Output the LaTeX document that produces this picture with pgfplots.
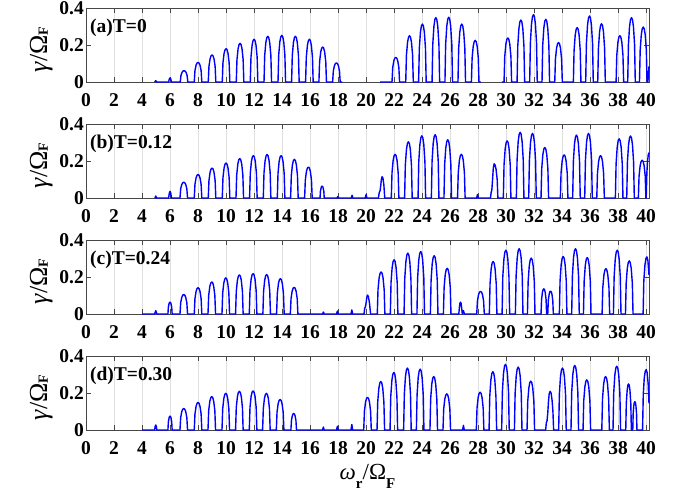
\documentclass[border=0pt]{standalone}
\usepackage{fontspec}
\setmainfont{Liberation Serif}
\usepackage{pgfplots}
\pgfplotsset{compat=1.18}
\newcommand{\tfont}{\fontsize{19.5}{19.5}\selectfont\bfseries}
\newcommand{\ylab}{{\fontsize{26}{26}\selectfont{\itshape γ}/Ω}\raisebox{-0.08em}{\fontsize{14}{14}\selectfont\bfseries F}}
\newcommand{\xlab}{{\fontsize{23}{23}\selectfont{\itshape ω}}\raisebox{-9pt}{\fontsize{15}{15}\selectfont\bfseries r}{\fontsize{23}{23}\selectfont/Ω}\raisebox{-9pt}{\fontsize{15}{15}\selectfont\bfseries F}}
\pgfplotsset{
  panel/.style={
    scale only axis, width=563pt, height=74pt,
    xmin=0, xmax=40.2, ymin=0, ymax=0.4,
    xtick={0,2,...,40}, ytick={0,0.2,0.4},
    xmajorgrids, grid style={black!12, line width=0.6pt},
    tick align=inside, major tick length=5pt,
    axis line style={draw=black!72, line width=0.7pt},
    every tick/.style={black!72, line width=0.6pt},
    tick label style={font=\tfont},
    /pgf/number format/assume math mode=true,
    yticklabel style={/pgf/number format/fixed, inner sep=2pt},
    xticklabel style={inner sep=2pt, yshift=-9pt},
    clip=false, unbounded coords=jump,
    ylabel={\ylab},
    every axis y label/.style={at={(axis description cs:-0.069,0.44)}, rotate=90, anchor=base},
  },
  pk/.style={blue, line width=1.4pt, line join=round, mark=none},
}
\begin{document}
\begin{tikzpicture}
\useasboundingbox (0,0) rectangle (683pt,496pt);
% ---------------- (a)
\begin{axis}[panel, at={(86pt,414pt)}, anchor=south west]
\addplot[pk] coordinates {
(4.9,0)(4.98,0.007)(5.06,0)
(5.9,0)(5.95,0.0165)(6.0,0.022)(6.05,0.0165)(6.1,0)
(6.73,0)(6.78,0.0354)(6.86,0.0525)(6.93,0.0592)(7.0,0.061)(7.07,0.0592)(7.14,0.0525)(7.22,0.0354)(7.27,0)
(7.73,0)(7.78,0.0615)(7.86,0.0912)(7.93,0.1028)(8.0,0.106)(8.07,0.1028)(8.14,0.0912)(8.22,0.0615)(8.27,0)
(8.73,0)(8.78,0.0847)(8.86,0.1256)(8.93,0.1416)(9.0,0.146)(9.07,0.1416)(9.14,0.1256)(9.22,0.0847)(9.27,0)
(9.73,0)(9.78,0.1044)(9.86,0.1548)(9.93,0.1746)(10.0,0.18)(10.07,0.1746)(10.14,0.1548)(10.22,0.1044)(10.27,0)
(10.73,0)(10.78,0.1212)(10.86,0.1797)(10.93,0.2027)(11.0,0.209)(11.07,0.2027)(11.14,0.1797)(11.22,0.1212)(11.27,0)
(11.73,0)(11.78,0.134)(11.86,0.1987)(11.93,0.2241)(12.0,0.231)(12.07,0.2241)(12.14,0.1987)(12.22,0.134)(12.27,0)
(12.71,0)(12.76,0.1433)(12.84,0.2124)(12.91,0.2396)(12.98,0.247)(13.05,0.2396)(13.12,0.2124)(13.2,0.1433)(13.25,0)
(13.71,0)(13.76,0.1462)(13.84,0.2167)(13.91,0.2444)(13.98,0.252)(14.05,0.2444)(14.12,0.2167)(14.2,0.1462)(14.25,0)
(14.68,0)(14.73,0.1433)(14.81,0.2124)(14.88,0.2396)(14.95,0.247)(15.02,0.2396)(15.09,0.2124)(15.17,0.1433)(15.22,0)
(15.68,0)(15.73,0.134)(15.81,0.1987)(15.88,0.2241)(15.95,0.231)(16.02,0.2241)(16.09,0.1987)(16.17,0.134)(16.22,0)
(16.63,0)(16.68,0.1096)(16.76,0.1625)(16.83,0.1833)(16.9,0.189)(16.97,0.1833)(17.04,0.1625)(17.12,0.1096)(17.17,0)
(17.61,0)(17.66,0.0597)(17.74,0.0886)(17.81,0.0999)(17.88,0.103)(17.95,0.0999)(18.02,0.0886)(18.1,0.0597)(18.15,0)
(18.3,0)(18.3,nan)
(21.0,0)
(21.85,0)(21.9,0.0771)(21.98,0.1144)(22.05,0.129)(22.12,0.133)(22.19,0.129)(22.26,0.1144)(22.34,0.0771)(22.39,0)
(22.83,0)(22.88,0.145)(22.96,0.215)(23.03,0.2425)(23.1,0.25)(23.17,0.2425)(23.24,0.215)(23.32,0.145)(23.37,0)
(23.75,0)(23.8,0.1815)(23.88,0.2692)(23.95,0.3036)(24.02,0.313)(24.09,0.3036)(24.16,0.2692)(24.24,0.1815)(24.29,0)
(24.71,0)(24.76,0.2018)(24.84,0.2993)(24.91,0.3376)(24.98,0.348)(25.05,0.3376)(25.12,0.2993)(25.2,0.2018)(25.25,0)
(25.63,0)(25.68,0.203)(25.76,0.301)(25.83,0.3395)(25.9,0.35)(25.97,0.3395)(26.04,0.301)(26.12,0.203)(26.17,0)
(26.56,0)(26.61,0.1815)(26.69,0.2692)(26.76,0.3036)(26.83,0.313)(26.9,0.3036)(26.97,0.2692)(27.05,0.1815)(27.1,0)
(27.52,0)(27.57,0.1305)(27.65,0.1935)(27.72,0.2183)(27.79,0.225)(27.86,0.2183)(27.93,0.1935)(28.01,0.1305)(28.06,0)
(28.2,0)(28.2,nan)
(29.7,0)
(29.85,0)(29.9,0.138)(29.98,0.2047)(30.05,0.2309)(30.12,0.238)(30.19,0.2309)(30.26,0.2047)(30.34,0.138)(30.39,0)
(30.78,0)(30.83,0.1943)(30.91,0.2881)(30.98,0.325)(31.05,0.335)(31.12,0.325)(31.19,0.2881)(31.27,0.1943)(31.32,0)
(31.68,0)(31.73,0.2111)(31.81,0.313)(31.88,0.3531)(31.95,0.364)(32.02,0.3531)(32.09,0.313)(32.17,0.2111)(32.22,0)
(32.56,0)(32.61,0.1966)(32.69,0.2915)(32.76,0.3288)(32.83,0.339)(32.9,0.3288)(32.97,0.2915)(33.05,0.1966)(33.1,0)
(33.47,0)(33.52,0.1235)(33.6,0.1832)(33.67,0.2066)(33.74,0.213)(33.81,0.2066)(33.88,0.1832)(33.96,0.1235)(34.01,0)
(34.8,0)(34.85,0.1705)(34.93,0.2528)(35.0,0.2852)(35.07,0.294)(35.14,0.2852)(35.21,0.2528)(35.29,0.1705)(35.34,0)
(35.68,0)(35.73,0.2071)(35.81,0.307)(35.88,0.3463)(35.95,0.357)(36.02,0.3463)(36.09,0.307)(36.17,0.2071)(36.22,0)
(36.54,0)(36.59,0.1827)(36.67,0.2709)(36.74,0.3056)(36.81,0.315)(36.88,0.3056)(36.95,0.2709)(37.03,0.1827)(37.08,0)
(37.85,0)(37.9,0.145)(37.98,0.215)(38.05,0.2425)(38.12,0.25)(38.19,0.2425)(38.26,0.215)(38.34,0.145)(38.39,0)
(38.68,0)(38.73,0.2018)(38.81,0.2993)(38.88,0.3376)(38.95,0.348)(39.02,0.3376)(39.09,0.2993)(39.17,0.2018)(39.22,0)
(39.52,0)(39.57,0.1723)(39.65,0.2554)(39.72,0.2881)(39.79,0.297)(39.86,0.2881)(39.93,0.2554)(40.01,0.1723)(40.06,0)
(40.12,0)(40.2,0.085)
};
\node[anchor=north west, inner sep=0pt, font=\tfont] at (rel axis cs:0.007,0.85) {(a)T=0};
\end{axis}
% ---------------- (b)
\begin{axis}[panel, at={(86pt,298pt)}, anchor=south west]
\addplot[pk] coordinates {
(4.9,0)(4.92,0)(4.98,0.011)(5.04,0)
(5.9,0)(5.95,0.027)(6.0,0.036)(6.05,0.027)(6.1,0)
(6.71,0)(6.76,0.0493)(6.84,0.0731)(6.91,0.0825)(6.98,0.085)(7.05,0.0825)(7.12,0.0731)(7.2,0.0493)(7.25,0)
(7.73,0)(7.78,0.0737)(7.86,0.1092)(7.93,0.1232)(8.0,0.127)(8.07,0.1232)(8.14,0.1092)(8.22,0.0737)(8.27,0)
(8.73,0)(8.78,0.094)(8.86,0.1393)(8.93,0.1571)(9.0,0.162)(9.07,0.1571)(9.14,0.1393)(9.22,0.094)(9.27,0)
(9.73,0)(9.78,0.1096)(9.86,0.1625)(9.93,0.1833)(10.0,0.189)(10.07,0.1833)(10.14,0.1625)(10.22,0.1096)(10.27,0)
(10.71,0)(10.76,0.1235)(10.84,0.1832)(10.91,0.2066)(10.98,0.213)(11.05,0.2066)(11.12,0.1832)(11.2,0.1235)(11.25,0)
(11.68,0)(11.73,0.1328)(11.81,0.1969)(11.88,0.2221)(11.95,0.229)(12.02,0.2221)(12.09,0.1969)(12.17,0.1328)(12.22,0)
(12.66,0)(12.71,0.1363)(12.79,0.2021)(12.86,0.228)(12.93,0.235)(13.0,0.228)(13.07,0.2021)(13.15,0.1363)(13.2,0)
(13.66,0)(13.71,0.1328)(13.79,0.1969)(13.86,0.2221)(13.93,0.229)(14.0,0.2221)(14.07,0.1969)(14.15,0.1328)(14.2,0)
(14.61,0)(14.66,0.1212)(14.74,0.1797)(14.81,0.2027)(14.88,0.209)(14.95,0.2027)(15.02,0.1797)(15.1,0.1212)(15.15,0)
(15.61,0)(15.66,0.0969)(15.74,0.1436)(15.81,0.162)(15.88,0.167)(15.95,0.162)(16.02,0.1436)(16.1,0.0969)(16.15,0)
(16.71,0)(16.74,0.0371)(16.79,0.055)(16.82,0.0621)(16.86,0.064)(16.9,0.0621)(16.93,0.055)(16.98,0.0371)(17.01,0)
(17.92,0)(17.98,0.008)(18.04,0)(18.94,0)(19.0,0.015)(19.06,0)(19.94,0)(20.0,0.018)(20.06,0)
(20.88,0)(20.94,0.03)(21.0,0.04)(21.05,0.07)(21.09,0.1)(21.14,0.115)(21.2,0.108)(21.27,0.07)(21.33,0)
(21.8,0)(21.85,0.1369)(21.93,0.203)(22.0,0.2289)(22.07,0.236)(22.14,0.2289)(22.21,0.203)(22.29,0.1369)(22.34,0)
(22.75,0)(22.8,0.1763)(22.88,0.2614)(22.95,0.2949)(23.02,0.304)(23.09,0.2949)(23.16,0.2614)(23.24,0.1763)(23.29,0)
(23.71,0)(23.76,0.1949)(23.84,0.289)(23.91,0.3259)(23.98,0.336)(24.05,0.3259)(24.12,0.289)(24.2,0.1949)(24.25,0)
(24.66,0)(24.71,0.1984)(24.79,0.2941)(24.86,0.3317)(24.93,0.342)(25.0,0.3317)(25.07,0.2941)(25.15,0.1984)(25.2,0)
(25.56,0)(25.61,0.1827)(25.69,0.2709)(25.76,0.3056)(25.83,0.315)(25.9,0.3056)(25.97,0.2709)(26.05,0.1827)(26.1,0)
(26.53,0)(26.58,0.1369)(26.66,0.203)(26.73,0.2289)(26.8,0.236)(26.87,0.2289)(26.94,0.203)(27.02,0.1369)(27.07,0)
(27.89,0)(27.95,0.018)(28.01,0)
(28.88,0)(28.93,0.03)(28.98,0.045)(29.03,0.1)(29.08,0.16)(29.14,0.185)(29.21,0.178)(29.28,0.155)(29.36,0.1)(29.41,0)
(29.8,0)(29.85,0.1792)(29.93,0.2657)(30.0,0.2997)(30.07,0.309)(30.14,0.2997)(30.21,0.2657)(30.29,0.1792)(30.34,0)
(30.73,0)(30.78,0.2059)(30.86,0.3053)(30.93,0.3444)(31.0,0.355)(31.07,0.3444)(31.14,0.3053)(31.22,0.2059)(31.27,0)
(31.61,0)(31.66,0.2024)(31.74,0.3001)(31.81,0.3385)(31.88,0.349)(31.95,0.3385)(32.02,0.3001)(32.1,0.2024)(32.15,0)
(32.49,0)(32.54,0.1583)(32.62,0.2348)(32.69,0.2648)(32.76,0.273)(32.83,0.2648)(32.9,0.2348)(32.98,0.1583)(33.03,0)
(33.87,0)(33.92,0.1351)(34.0,0.2004)(34.07,0.226)(34.14,0.233)(34.21,0.226)(34.28,0.2004)(34.36,0.1351)(34.41,0)
(34.75,0)(34.8,0.1972)(34.88,0.2924)(34.95,0.3298)(35.02,0.34)(35.09,0.3298)(35.16,0.2924)(35.24,0.1972)(35.29,0)
(35.61,0)(35.66,0.2024)(35.74,0.3001)(35.81,0.3385)(35.88,0.349)(35.95,0.3385)(36.02,0.3001)(36.1,0.2024)(36.15,0)
(36.47,0)(36.52,0.1328)(36.6,0.1969)(36.67,0.2221)(36.74,0.229)(36.81,0.2221)(36.88,0.1969)(36.96,0.1328)(37.01,0)
(37.8,0)(37.85,0.1856)(37.93,0.2752)(38.0,0.3104)(38.07,0.32)(38.14,0.3104)(38.21,0.2752)(38.29,0.1856)(38.34,0)
(38.61,0)(38.66,0.1943)(38.74,0.2881)(38.81,0.325)(38.88,0.335)(38.95,0.325)(39.02,0.2881)(39.1,0.1943)(39.15,0)
(39.44,0)(39.49,0.1183)(39.57,0.1754)(39.64,0.1979)(39.71,0.204)(39.78,0.1979)(39.85,0.1754)(39.93,0.1183)(39.98,0)
(40.0,0)(40.05,0.14)(40.1,0.2)(40.15,0.235)(40.2,0.245)
};
\node[anchor=north west, inner sep=0pt, font=\tfont] at (rel axis cs:0.007,0.85) {(b)T=0.12};
\end{axis}
% ---------------- (c)
\begin{axis}[panel, at={(86pt,182pt)}, anchor=south west]
\addplot[pk] coordinates {
(4.0,0)(4.9,0)(4.98,0.018)(5.06,0)
(5.85,0)(5.88,0.0371)(5.93,0.055)(5.96,0.0621)(6.0,0.064)(6.04,0.0621)(6.07,0.055)(6.12,0.0371)(6.15,0)
(6.71,0)(6.76,0.0609)(6.84,0.0903)(6.91,0.1019)(6.98,0.105)(7.05,0.1019)(7.12,0.0903)(7.2,0.0609)(7.25,0)
(7.73,0)(7.78,0.0824)(7.86,0.1221)(7.93,0.1377)(8.0,0.142)(8.07,0.1377)(8.14,0.1221)(8.22,0.0824)(8.27,0)
(8.71,0)(8.76,0.1003)(8.84,0.1488)(8.91,0.1678)(8.98,0.173)(9.05,0.1678)(9.12,0.1488)(9.2,0.1003)(9.25,0)
(9.71,0)(9.76,0.1131)(9.84,0.1677)(9.91,0.1892)(9.98,0.195)(10.05,0.1892)(10.12,0.1677)(10.2,0.1131)(10.25,0)
(10.68,0)(10.73,0.1224)(10.81,0.1815)(10.88,0.2047)(10.95,0.211)(11.02,0.2047)(11.09,0.1815)(11.17,0.1224)(11.22,0)
(11.66,0)(11.71,0.1264)(11.79,0.1875)(11.86,0.2115)(11.93,0.218)(12.0,0.2115)(12.07,0.1875)(12.15,0.1264)(12.2,0)
(12.63,0)(12.68,0.1235)(12.76,0.1832)(12.83,0.2066)(12.9,0.213)(12.97,0.2066)(13.04,0.1832)(13.12,0.1235)(13.17,0)
(13.61,0)(13.66,0.1108)(13.74,0.1643)(13.81,0.1853)(13.88,0.191)(13.95,0.1853)(14.02,0.1643)(14.1,0.1108)(14.15,0)
(14.59,0)(14.64,0.0835)(14.72,0.1238)(14.79,0.1397)(14.86,0.144)(14.93,0.1397)(15.0,0.1238)(15.08,0.0835)(15.13,0)
(16.89,0)(16.95,0.011)(17.01,0)(17.89,0)(17.95,0.016)(18.01,0)(18.92,0)(18.98,0.022)(19.04,0)
(19.85,0)(19.9,0.03)(19.95,0.04)(20.0,0.06)(20.05,0.09)(20.1,0.102)(20.16,0.095)(20.24,0.06)(20.32,0)
(20.8,0)(20.85,0.1317)(20.93,0.1952)(21.0,0.2202)(21.07,0.227)(21.14,0.2202)(21.21,0.1952)(21.29,0.1317)(21.34,0)
(21.73,0)(21.78,0.1699)(21.86,0.252)(21.93,0.2842)(22.0,0.293)(22.07,0.2842)(22.14,0.252)(22.22,0.1699)(22.27,0)
(22.71,0)(22.76,0.1908)(22.84,0.2829)(22.91,0.3191)(22.98,0.329)(23.05,0.3191)(23.12,0.2829)(23.2,0.1908)(23.25,0)
(23.63,0)(23.68,0.196)(23.76,0.2907)(23.83,0.3279)(23.9,0.338)(23.97,0.3279)(24.04,0.2907)(24.12,0.196)(24.17,0)
(24.59,0)(24.64,0.1827)(24.72,0.2709)(24.79,0.3056)(24.86,0.315)(24.93,0.3056)(25.0,0.2709)(25.08,0.1827)(25.13,0)
(25.52,0)(25.57,0.1433)(25.65,0.2124)(25.72,0.2396)(25.79,0.247)(25.86,0.2396)(25.93,0.2124)(26.01,0.1433)(26.06,0)
(26.62,0)(26.66,0.035)(26.7,0.058)(26.74,0.064)(26.78,0.058)(26.82,0.035)(26.87,0)(26.95,0.018)(27.02,0)
(27.9,0)(27.95,0.0708)(28.03,0.1049)(28.1,0.1183)(28.17,0.122)(28.24,0.1183)(28.31,0.1049)(28.39,0.0708)(28.44,0)
(28.8,0)(28.85,0.1647)(28.93,0.2442)(29.0,0.2755)(29.07,0.284)(29.14,0.2755)(29.21,0.2442)(29.29,0.1647)(29.34,0)
(29.71,0)(29.76,0.2001)(29.84,0.2967)(29.91,0.3347)(29.98,0.345)(30.05,0.3347)(30.12,0.2967)(30.2,0.2001)(30.25,0)
(30.66,0)(30.71,0.2047)(30.79,0.3036)(30.86,0.3424)(30.93,0.353)(31.0,0.3424)(31.07,0.3036)(31.15,0.2047)(31.2,0)
(31.52,0)(31.57,0.1752)(31.65,0.2597)(31.72,0.2929)(31.79,0.302)(31.86,0.2929)(31.93,0.2597)(32.01,0.1752)(32.06,0)
(32.49,0)(32.53,0.0789)(32.59,0.117)(32.64,0.1319)(32.69,0.136)(32.74,0.1319)(32.79,0.117)(32.85,0.0789)(32.89,0)
(32.97,0)(33.01,0.0719)(33.07,0.1066)(33.12,0.1203)(33.17,0.124)(33.22,0.1203)(33.27,0.1066)(33.33,0.0719)(33.37,0)
(33.8,0)(33.85,0.1804)(33.93,0.2675)(34.0,0.3017)(34.07,0.311)(34.14,0.3017)(34.21,0.2675)(34.29,0.1804)(34.34,0)
(34.68,0)(34.73,0.2047)(34.81,0.3036)(34.88,0.3424)(34.95,0.353)(35.02,0.3424)(35.09,0.3036)(35.17,0.2047)(35.22,0)
(35.52,0)(35.57,0.1769)(35.65,0.2623)(35.72,0.2959)(35.79,0.305)(35.86,0.2959)(35.93,0.2623)(36.01,0.1769)(36.06,0)
(36.85,0)(36.9,0.1421)(36.98,0.2107)(37.05,0.2377)(37.12,0.245)(37.19,0.2377)(37.26,0.2107)(37.34,0.1421)(37.39,0)
(37.66,0)(37.71,0.2001)(37.79,0.2967)(37.86,0.3347)(37.93,0.345)(38.0,0.3347)(38.07,0.2967)(38.15,0.2001)(38.2,0)
(38.52,0)(38.57,0.1665)(38.65,0.2468)(38.72,0.2784)(38.79,0.287)(38.86,0.2784)(38.93,0.2468)(39.01,0.1665)(39.06,0)
(39.78,0)(39.83,0.18)(39.91,0.265)(39.98,0.3)(40.05,0.309)(40.12,0.29)(40.2,0.21)
};
\node[anchor=north west, inner sep=0pt, font=\tfont] at (rel axis cs:0.007,0.85) {(c)T=0.24};
\end{axis}
% ---------------- (d)
\begin{axis}[panel, at={(86pt,66pt)}, anchor=south west,
  xlabel={\xlab},
  every axis x label/.style={at={(axis description cs:0.5,0)}, anchor=base, yshift=-49pt}]
\addplot[pk] coordinates {
(4.0,0)(4.9,0)(4.94,0.02)(4.98,0.027)(5.02,0.02)(5.06,0)
(5.85,0)(5.88,0.0435)(5.93,0.0645)(5.96,0.0728)(6.0,0.075)(6.04,0.0728)(6.07,0.0645)(6.12,0.0435)(6.15,0)
(6.71,0)(6.76,0.0673)(6.84,0.0998)(6.91,0.1125)(6.98,0.116)(7.05,0.1125)(7.12,0.0998)(7.2,0.0673)(7.25,0)
(7.73,0)(7.78,0.0864)(7.86,0.1281)(7.93,0.1445)(8.0,0.149)(8.07,0.1445)(8.14,0.1281)(8.22,0.0864)(8.27,0)
(8.71,0)(8.76,0.1044)(8.84,0.1548)(8.91,0.1746)(8.98,0.18)(9.05,0.1746)(9.12,0.1548)(9.2,0.1044)(9.25,0)
(9.71,0)(9.76,0.1148)(9.84,0.1703)(9.91,0.1921)(9.98,0.198)(10.05,0.1921)(10.12,0.1703)(10.2,0.1148)(10.25,0)
(10.68,0)(10.73,0.1212)(10.81,0.1797)(10.88,0.2027)(10.95,0.209)(11.02,0.2027)(11.09,0.1797)(11.17,0.1212)(11.22,0)
(11.66,0)(11.71,0.1224)(11.79,0.1815)(11.86,0.2047)(11.93,0.211)(12.0,0.2047)(12.07,0.1815)(12.15,0.1224)(12.2,0)
(12.61,0)(12.66,0.1148)(12.74,0.1703)(12.81,0.1921)(12.88,0.198)(12.95,0.1921)(13.02,0.1703)(13.1,0.1148)(13.15,0)
(13.59,0)(13.64,0.0957)(13.72,0.1419)(13.79,0.1601)(13.86,0.165)(13.93,0.1601)(14.0,0.1419)(14.08,0.0957)(14.13,0)
(14.63,0)(14.67,0.0516)(14.73,0.0765)(14.78,0.0863)(14.83,0.089)(14.88,0.0863)(14.93,0.0765)(14.99,0.0516)(15.03,0)
(16.89,0)(16.95,0.016)(17.01,0)(17.89,0)(17.95,0.02)(18.01,0)(18.92,0)(18.98,0.03)(19.04,0)
(19.83,0)(19.88,0.1021)(19.96,0.1514)(20.03,0.1707)(20.1,0.176)(20.17,0.1707)(20.24,0.1514)(20.32,0.1021)(20.37,0)
(20.78,0)(20.83,0.152)(20.91,0.2253)(20.98,0.2541)(21.05,0.262)(21.12,0.2541)(21.19,0.2253)(21.27,0.152)(21.32,0)
(21.71,0)(21.76,0.1804)(21.84,0.2675)(21.91,0.3017)(21.98,0.311)(22.05,0.3017)(22.12,0.2675)(22.2,0.1804)(22.25,0)
(22.68,0)(22.73,0.1943)(22.81,0.2881)(22.88,0.325)(22.95,0.335)(23.02,0.325)(23.09,0.2881)(23.17,0.1943)(23.22,0)
(23.59,0)(23.64,0.1908)(23.72,0.2829)(23.79,0.3191)(23.86,0.329)(23.93,0.3191)(24.0,0.2829)(24.08,0.1908)(24.13,0)
(24.56,0)(24.61,0.1676)(24.69,0.2485)(24.76,0.2803)(24.83,0.289)(24.9,0.2803)(24.97,0.2485)(25.05,0.1676)(25.1,0)
(25.49,0)(25.54,0.1131)(25.62,0.1677)(25.69,0.1892)(25.76,0.195)(25.83,0.1892)(25.9,0.1677)(25.98,0.1131)(26.03,0)
(26.89,0)(26.95,0.025)(27.01,0)
(27.87,0)(27.92,0.1183)(28.0,0.1754)(28.07,0.1979)(28.14,0.204)(28.21,0.1979)(28.28,0.1754)(28.36,0.1183)(28.41,0)
(28.78,0)(28.83,0.1827)(28.91,0.2709)(28.98,0.3056)(29.05,0.315)(29.12,0.3056)(29.19,0.2709)(29.27,0.1827)(29.32,0)
(29.68,0)(29.73,0.2059)(29.81,0.3053)(29.88,0.3444)(29.95,0.355)(30.02,0.3444)(30.09,0.3053)(30.17,0.2059)(30.22,0)
(30.59,0)(30.64,0.1972)(30.72,0.2924)(30.79,0.3298)(30.86,0.34)(30.93,0.3298)(31.0,0.2924)(31.08,0.1972)(31.13,0)
(31.49,0)(31.54,0.1531)(31.62,0.227)(31.69,0.2561)(31.76,0.264)(31.83,0.2561)(31.9,0.227)(31.98,0.1531)(32.03,0)
(32.82,0)(32.87,0.04)(32.92,0.05)(32.97,0.09)(33.02,0.15)(33.07,0.195)(33.14,0.209)(33.21,0.2)(33.28,0.16)(33.34,0.1)(33.39,0)
(33.75,0)(33.8,0.1943)(33.88,0.2881)(33.95,0.325)(34.02,0.335)(34.09,0.325)(34.16,0.2881)(34.24,0.1943)(34.29,0)
(34.63,0)(34.68,0.2024)(34.76,0.3001)(34.83,0.3385)(34.9,0.349)(34.97,0.3385)(35.04,0.3001)(35.12,0.2024)(35.17,0)
(35.49,0)(35.54,0.1572)(35.62,0.2331)(35.69,0.2629)(35.76,0.271)(35.83,0.2629)(35.9,0.2331)(35.98,0.1572)(36.03,0)
(36.83,0)(36.88,0.1676)(36.96,0.2485)(37.03,0.2803)(37.1,0.289)(37.17,0.2803)(37.24,0.2485)(37.32,0.1676)(37.37,0)
(37.63,0)(37.68,0.2001)(37.76,0.2967)(37.83,0.3347)(37.9,0.345)(37.97,0.3347)(38.04,0.2967)(38.12,0.2001)(38.17,0)
(38.54,0)(38.58,0.1444)(38.64,0.2141)(38.69,0.2415)(38.74,0.249)(38.79,0.2415)(38.84,0.2141)(38.9,0.1444)(38.94,0)
(39.04,0)(39.07,0.0887)(39.115,0.1316)(39.15,0.1484)(39.19,0.153)(39.23,0.1484)(39.265,0.1316)(39.31,0.0887)(39.34,0)
(39.74,0)(39.79,0.19)(39.86,0.28)(39.93,0.317)(40.0,0.327)(40.07,0.31)(40.14,0.25)(40.2,0.144)
};
\node[anchor=north west, inner sep=0pt, font=\tfont] at (rel axis cs:0.007,0.85) {(d)T=0.30};
\end{axis}
\end{tikzpicture}
\end{document}
